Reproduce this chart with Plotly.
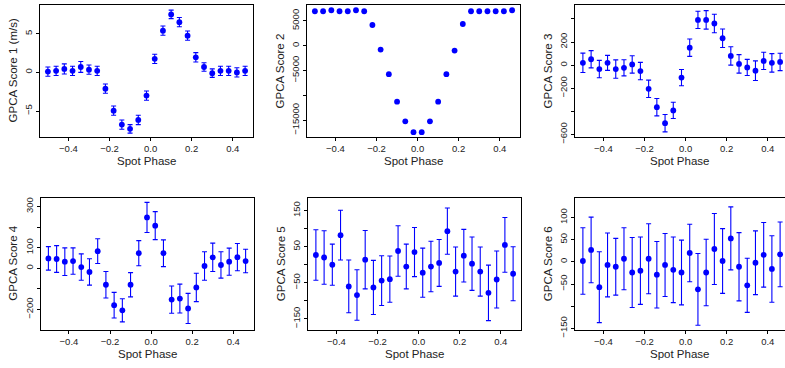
import plotly.graph_objects as go

phase = [-0.50, -0.46, -0.42, -0.38, -0.34, -0.30, -0.26, -0.22, -0.18, -0.14, -0.10, -0.06, -0.02,
         0.02, 0.06, 0.10, 0.14, 0.18, 0.22, 0.26, 0.30, 0.34, 0.38, 0.42, 0.46]

score1 = [0.1, 0.2, 0.45, 0.2, 0.7, 0.35, 0.2, -2.1, -4.95, -6.75, -7.3, -6.15, -3.0,
          1.75, 5.4, 7.5, 6.5, 4.75, 1.95, 0.7, -0.1, 0.2, 0.2, 0.0, 0.2]
err1 = [0.6, 0.6, 0.65, 0.6, 0.7, 0.6, 0.6, 0.6, 0.6, 0.6, 0.55, 0.6, 0.6,
        0.6, 0.6, 0.55, 0.6, 0.6, 0.6, 0.55, 0.55, 0.6, 0.6, 0.6, 0.6]

score2 = [6923, 6923, 7121, 6923, 6923, 7121, 6923, 4156, -785, -5725, -11260, -15210, -17385,
          -17385, -15210, -11260, -5725, -982, 4354, 6923, 6923, 6923, 6923, 6923, 7121]

score3 = [20, 51, -34, 20, -34, -23, 6, -51, -205, -364, -503, -392, -108,
          151, 392, 392, 361, 233, 80, 11, -20, -48, 37, 20, 28]
err3 = [84, 75, 75, 65, 80, 70, 75, 75, 75, 75, 75, 70, 70,
        75, 75, 80, 80, 80, 80, 80, 70, 85, 75, 80, 75]

score4 = [48, 45, 32, 35, 6, -18, 83, -80, -179, -204, -80, 73, 247,
          207, 73, -152, -147, -195, -93, 11, 53, 16, 32, 54, 35]
err4 = [57, 65, 67, 64, 64, 64, 60, 64, 62, 56, 59, 61, 73,
        68, 65, 66, 70, 73, 69, 69, 69, 64, 66, 66, 57]

score5 = [27, 20, 0, 82, -60, -84, 14, -63, -44, -40, 38, -5, 35,
          -22, -5, 5, 93, -19, 25, 3, -19, -78, -41, 55, -25]
err5 = [70, 74, 57, 69, 73, 70, 81, 75, 69, 64, 70, 62, 68,
        68, 70, 65, 64, 68, 73, 74, 68, 77, 79, 76, 75]

score6 = [2, 27, -57, -7, -11, 7, -24, -20, 7, -29, -7, -18, -24,
          20, -62, -24, 29, 2, 53, -11, -53, -2, 16, -16, 17]
err6 = [75, 74, 80, 72, 64, 70, 79, 76, 79, 75, 71, 74, 73,
        65, 81, 75, 80, 73, 71, 77, 61, 72, 73, 75, 73]

y_titles = ["GPCA Score 1 (m/s)", "GPCA Score 2", "GPCA Score 3",
            "GPCA Score 4", "GPCA Score 5", "GPCA Score 6"]
x_title = "Spot Phase"
x_tickvals = [-0.4, -0.2, 0.0, 0.2, 0.4]
x_ticktext = ["\u22120.4", "\u22120.2", "0.0", "0.2", "0.4"]

y_tickvals = [
    [-5, 0, 5],
    [5000, 0, -5000, -10000, -15000],
    [400, 200, 0, -200, -400, -600],
    [300, 200, 100, 0, -100, -200],
    [150, 100, 50, 0, -50, -100, -150],
    [100, 50, 0, -50, -100, -150],
]
y_ticktext = [
    ["\u22125", "0", "5"],
    ["5000", "0", "\u22125000", "", "\u221215000"],
    ["", "200", "0", "\u2212200", "", "\u2212600"],
    ["300", "", "100", "0", "", "\u2212200"],
    ["150", "", "50", "", "\u221250", "", "\u2212150"],
    ["100", "50", "0", "\u221250", "", "\u2212150"],
]

W, H = 785, 368
# panel boxes in pixels: (left, right, top, bottom)
boxes = [
    (40, 253, 5, 140), (307, 520, 5, 140), (575, 785, 5, 140),
    (40.5, 253.5, 202, 337), (308, 521, 202, 337), (575, 785, 202, 337),
]
y_ranges = [[-8.35, 8.73], [-18350, 8200], [-622, 522],
            [-298, 343], [-180, 186], [-153, 145]]
xr = [-0.5384, 0.4984]

scores = [score1, score2, score3, score4, score5, score6]
errs = [err1, None, err3, err4, err5, err6]

FONT = "Liberation Sans, Arial, Helvetica, sans-serif"
BLUE = "#0000FF"

fig = go.Figure()
layout = dict(width=W, height=H, margin=dict(l=0, r=0, t=0, b=0),
              paper_bgcolor="white", plot_bgcolor="white", showlegend=False,
              font=dict(family=FONT, color="black"))
annotations = []

for i in range(6):
    n = "" if i == 0 else str(i + 1)
    l, r, t, b = boxes[i]
    dom_x = [l / W, r / W]
    dom_y = [1 - b / H, 1 - t / H]
    cut = r >= W
    if cut:
        full = 213.0
        x_range = [xr[0], xr[0] + (xr[1] - xr[0]) * (r - l) / full]
    else:
        x_range = xr
    tr = dict(x=phase, y=scores[i], mode="markers",
              marker=dict(color=BLUE, size=5.8),
              xaxis="x" + n, yaxis="y" + n, hoverinfo="skip")
    if errs[i] is not None:
        tr["error_y"] = dict(type="data", array=errs[i], visible=True,
                             color=BLUE, thickness=1.1, width=2.5)
    fig.add_trace(go.Scatter(**tr))
    layout["xaxis" + n] = dict(domain=dom_x, range=x_range, anchor="y" + n,
                               tickvals=x_tickvals, ticktext=x_ticktext,
                               ticks="outside", ticklen=3, tickcolor="black",
                               showline=True, linecolor="black", linewidth=1,
                               mirror=True, showgrid=False, zeroline=False,
                               ticklabeloverflow="allow",
                               tickfont=dict(size=9.5, color="#222"))
    layout["yaxis" + n] = dict(domain=dom_y, range=y_ranges[i], anchor="x" + n,
                               tickvals=y_tickvals[i], ticktext=y_ticktext[i],
                               tickangle=-90,
                               ticks="outside", ticklen=3, tickcolor="black",
                               showline=True, linecolor="black", linewidth=1,
                               mirror=(not cut), showgrid=False, zeroline=False,
                               tickfont=dict(size=9.5, color="#222"))
    if cut:
        xc = (l + l + 213) / 2 - 2
    else:
        xc = (l + r) / 2
    annotations.append(dict(text=x_title, xref="paper", yref="paper",
                            x=xc / W, y=1 - (b + 25) / H,
                            xanchor="center", yanchor="middle", showarrow=False,
                            font=dict(size=11.5, color="#222")))
    annotations.append(dict(text=y_titles[i], xref="paper", yref="paper",
                            x=(l - 27.5) / W, y=1 - ((t + b) / 2) / H,
                            xanchor="center", yanchor="middle", showarrow=False,
                            textangle=-90,
                            font=dict(size=11.5, color="#222")))

layout["annotations"] = annotations
fig.update_layout(**layout)
fig.write_html("out.html",
               config={"displayModeBar": False, "staticPlot": True},
               post_script="document.body.style.margin='0px';document.body.style.overflow='hidden';")
